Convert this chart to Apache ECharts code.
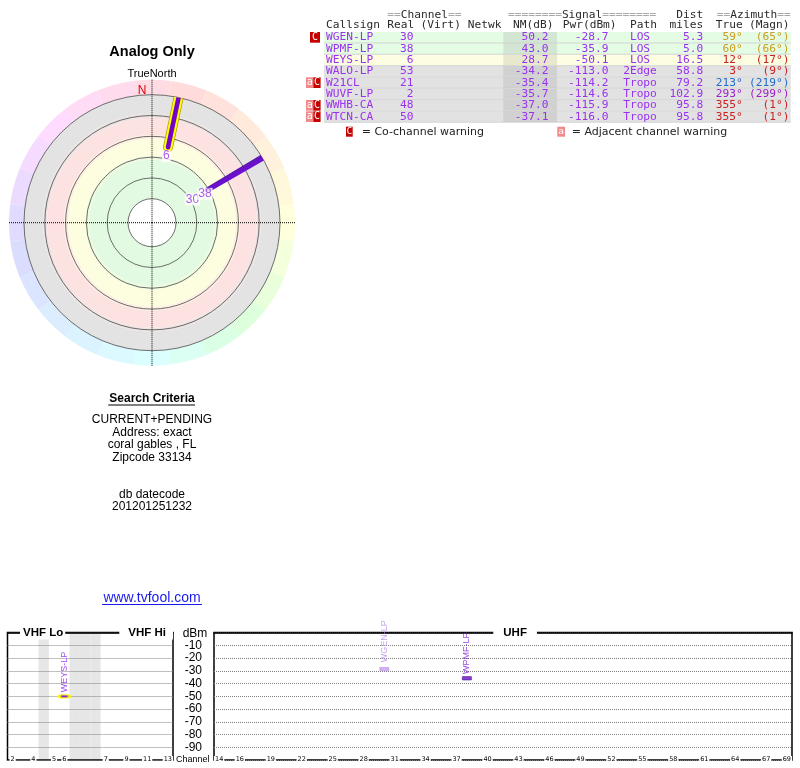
<!DOCTYPE html>
<html><head><meta charset="utf-8">
<script src="https://cdn.jsdelivr.net/npm/echarts@6/dist/echarts.min.js"></script>
<style>html,body{margin:0;padding:0;background:#fff}#c{width:800px;height:768px}</style>
</head><body><div id="c"></div>
<script>
// ================= DATA =================
const callsigns    = ['WGEN-LP','WPMF-LP','WEYS-LP','WALO-LP','W21CL','WUVF-LP','WWHB-CA','WTCN-CA'];
const realChannels = [30, 38, 6, 53, 21, 2, 48, 50];
const nmDb         = [50.2, 43.0, 28.7, -34.2, -35.4, -35.7, -37.0, -37.1];
const pwrDbm       = [-28.7, -35.9, -50.1, -113.0, -114.2, -114.6, -115.9, -116.0];
const paths        = ['LOS','LOS','LOS','2Edge','Tropo','Tropo','Tropo','Tropo'];
const distMiles    = [5.3, 5.0, 16.5, 58.8, 79.2, 102.9, 95.8, 95.8];
const azTrue       = [59, 60, 12, 3, 213, 293, 355, 355];
const azMagn       = [65, 66, 17, 9, 219, 299, 1, 1];
const warnings     = ['C','','','','aC','','aC','aC'];

const vhfSlots = ['2','3','4','g1','5','6','g2','g3','g4','7','8','9','10','11','12','13'];
const vhfTickLabels = ['2','4','5','6','7','9','11','13'];
const uhfSlots = ['14','15','16','17','18','19','20','21','22','23','24','25','26','27','28','29','30','31','32','33',
  '34','35','36','37','38','39','40','41','42','43','44','45','46','47','48','49','50','51','52','53','54','55',
  '56','57','58','59','60','61','62','63','64','65','66','67','68','69'];
const uhfTickLabels = ['14','16','19','22','25','28','31','34','37','40','43','46','49','52','55','58','61','64','67','69'];

const infoLines = ['CURRENT+PENDING','Address: exact','coral gables , FL','Zipcode 33134'];
const dbLines = ['db datecode','201201251232'];

// ================= STYLE =================
const FONT_MONO = "'DejaVu Sans Mono', monospace";
const FONT_SANS = "'Liberation Sans', Arial, sans-serif";
const FONT_DV = "'DejaVu Sans', sans-serif";
const PURPLE = '#9932ee';
const CX = 152, CY = 222.7;
const RADAR_MIN = -54, RADAR_MAX = 115, RADAR_STEP = 33.8;

const stationStyle = {
  'WGEN-LP': {line:'#5c18b0', width:4.4, mark:'#c49cf0', markBorder:'#b58ae8', label:'#b88cec', dist:5, lblOff:[-14.3, 9.7]},
  'WPMF-LP': {line:'#6c10d0', width:4.2, mark:'#6a0cc8', markBorder:'#40008a', label:'#7a1ad8', dist:2.5, lblOff:[-6.2, 5.3]},
  'WEYS-LP': {line:'#7400cc', width:4.6, halo:'#ffff00', haloEdge:'#a89c00', mark:'#7400cc', label:'#8a22e8', dist:2, lblOff:[-1.7, 8.9]}
};
const bandStack = [[24,'#ffffff'],[39,'#e2fae2'],[4,'#eefbde'],[17,'#fdfde0'],[4,'#fdefe2'],[17,'#fde2e2'],[4,'#eee3e3'],[19,'#e3e3e3']];
const hueAnchors = [[0,-15],[45,25],[90,60],[135,115],[180,180],[225,210],[270,250],[315,300],[360,345]];
function ringHue(az){
  for (let i=0;i<hueAnchors.length-1;i++){
    const a0=hueAnchors[i][0],h0=hueAnchors[i][1],a1=hueAnchors[i+1][0],h1=hueAnchors[i+1][1];
    if (az>=a0 && az<=a1) return ((h0+(h1-h0)*(az-a0)/(a1-a0))+360)%360;
  }
  return 0;
}
const ringSegs = ['0','15','30','45','60','75','90','105','120','135','150','165','180','195','210','225','240','255','270','285','300','315','330','345'];
function azColor(az){
  const h = (az<=20||az>=340) ? 0 : (az<=90 ? az*0.75 : (az>270 ? az-10 : az));
  return 'hsl('+h+',72%,46%)';
}
function band(nm){ return nm>=35?'green':(nm>=20?'yellow':(nm>=0?'red':'gray')); }
const BANDC = {green:['#e4fbe4','#d3e6d3'], yellow:['#fdfde2','#e8e8cf'], red:['#fde4e4','#e8d2d2'], gray:['#e2e2e2','#d1d1d1']};

const plotted = [];
nmDb.forEach((v,i)=>{ if (v>0) plotted.push(i); });

// ================= GRAPHIC (text/table) =================
const G = [];
function T(x,y,text,o){
  o=o||{};
  const st={text:String(text), fill:o.fill||'#333', font:o.font||('11.2px '+FONT_MONO),
    align:o.align||'left', verticalAlign:'middle', textAlign:o.align||'left', textVerticalAlign:'middle'};
  if (o.bg){ st.backgroundColor=o.bg; st.padding=o.pad||0; }
  G.push({type:'text', x:x, y:y, z:o.z||20, silent:true, style:st});
}
function R(x,y,w,h,fill,z){ G.push({type:'rect', shape:{x:x,y:y,width:w,height:h}, style:{fill:fill}, z:z||10, silent:true}); }
function L(x1,y1,x2,y2,stroke,w){ G.push({type:'line', shape:{x1:x1,y1:y1,x2:x2,y2:y2}, style:{stroke:stroke,lineWidth:w||1}, z:15, silent:true}); }

// left info
T(CX,51.7,'Analog Only',{font:'bold 14.5px '+FONT_SANS,align:'center',fill:'#000'});
T(CX,74,'TrueNorth',{font:'11px '+FONT_SANS,align:'center',fill:'#000'});
T(142,91,'N',{font:'12px '+FONT_SANS,align:'center',fill:'#dd0000',z:30});
T(CX,398.3,'Search Criteria',{font:'bold 12px '+FONT_SANS,align:'center',fill:'#000'});
L(108.3,405,195,405,'#000',1);
infoLines.forEach((s,k)=>T(CX,420+12.5*k,s,{font:'12px '+FONT_SANS,align:'center',fill:'#000'}));
dbLines.forEach((s,k)=>T(CX,494.3+12*k,s,{font:'12px '+FONT_SANS,align:'center',fill:'#000'}));
T(CX,598.3,'www.tvfool.com',{font:'14px '+FONT_SANS,align:'center',fill:'#1a1aee'});
L(102,604.5,202,604.5,'#1a1aee',1);

// table header
const GRAY='#a8a8a8', DARK='#2a2a2a';
T(387.3,15,'==       ==',{fill:GRAY}); T(387.3,15,'  Channel',{fill:DARK});
T(508,15,'========      ========',{fill:GRAY}); T(508,15,'        Signal',{fill:DARK});
T(703.3,15,'Dist',{fill:DARK,align:'right'});
T(716.7,15,'==       ==',{fill:GRAY}); T(716.7,15,'  Azimuth',{fill:DARK});
T(326,25.3,'Callsign',{fill:DARK}); T(387.3,25.3,'Real',{fill:DARK}); T(420.5,25.3,'(Virt)',{fill:DARK});
T(467.7,25.3,'Netwk',{fill:DARK}); T(513,25.3,'NM(dB)',{fill:DARK}); T(562.7,25.3,'Pwr(dBm)',{fill:DARK});
T(630,25.3,'Path',{fill:DARK}); T(703.3,25.3,'miles',{fill:DARK,align:'right'});
T(742.7,25.3,'True',{fill:DARK,align:'right'}); T(789.5,25.3,'(Magn)',{fill:DARK,align:'right'});

// table rows
const ROW0=32, ROWH=11.33;
callsigns.forEach((cs,i)=>{
  const top=ROW0+ROWH*i, yc=top+5.3, bc=BANDC[band(nmDb[i])];
  R(324,top,466.7,ROWH-0.7,bc[0],8);
  R(503.3,top,53.7,ROWH-0.7,bc[1],9);
  L(324,top+ROWH-0.35,790.7,top+ROWH-0.35,'#c4c4c4',0.7);
  const w=warnings[i];
  if (w==='C'){ R(310,top,10,10.7,'#c40000',12); T(315,yc,'C',{fill:'#fff',align:'center',font:'10px '+FONT_MONO}); }
  else if (w==='aC'){
    R(306,top,7.3,10.7,'#f08a8a',12); T(309.65,yc,'a',{fill:'#fff',align:'center',font:'10px '+FONT_MONO});
    R(313.3,top,7.3,10.7,'#c40000',12); T(316.95,yc,'C',{fill:'#fff',align:'center',font:'10px '+FONT_MONO});
  }
  T(326,yc,cs,{fill:PURPLE});
  T(413.5,yc,realChannels[i],{fill:PURPLE,align:'right'});
  T(548.5,yc,nmDb[i].toFixed(1),{fill:PURPLE,align:'right'});
  T(608.5,yc,pwrDbm[i].toFixed(1),{fill:PURPLE,align:'right'});
  T(640,yc,paths[i],{fill:PURPLE,align:'center'});
  T(703.3,yc,distMiles[i].toFixed(1),{fill:PURPLE,align:'right'});
  T(742.7,yc,azTrue[i]+'°',{fill:azColor(azTrue[i]),align:'right'});
  T(789.5,yc,'('+azMagn[i]+'°)',{fill:azColor(azTrue[i]),align:'right'});
});
// legend
R(346,126.7,6.7,10,'#c40000',12); T(349.35,131.7,'C',{fill:'#fff',align:'center',font:'9.5px '+FONT_MONO});
T(361.7,131.7,'= Co-channel warning',{fill:'#222',font:'11px '+FONT_DV});
R(557.3,126.7,7.7,10,'#f08a8a',12); T(561.15,131.7,'a',{fill:'#fff',align:'center',font:'9.5px '+FONT_MONO});
T(571.7,131.7,'= Adjacent channel warning',{fill:'#222',font:'11px '+FONT_DV});

// bottom panel titles
T(20,632.5,'VHF Lo',{font:'bold 11.5px '+FONT_SANS,fill:'#000',bg:'#fff',pad:[1,2,1,3],z:40});
T(119.3,632.5,'VHF Hi',{font:'bold 11.5px '+FONT_SANS,fill:'#000',bg:'#fff',pad:[1,7,1,9],z:40});
T(493.3,632.5,'UHF',{font:'bold 11.5px '+FONT_SANS,fill:'#000',bg:'#fff',pad:[1,10,1,10],z:40});
T(195,633.3,'dBm',{font:'12px '+FONT_SANS,fill:'#000',align:'center'});
T(209.5,760,'Channel',{font:'9px '+FONT_SANS,fill:'#000',align:'right'});

// ================= SERIES =================
const series = [];
// radar bands
bandStack.forEach(b=>series.push({type:'bar', coordinateSystem:'polar', polarIndex:0, stack:'bands', data:[b[0]],
  barWidth:'100%', barCategoryGap:'0%', itemStyle:{color:b[1]}, z:1, silent:true}));
// hue ring
series.push({type:'bar', coordinateSystem:'polar', polarIndex:1, barWidth:'100%', barCategoryGap:'0%', z:1, silent:true,
  data: ringSegs.map(a=>({value:1, itemStyle:{color:'hsl('+ringHue(+a)+',100%,93%)'}}))});
// radar lines
function lineS(data,color,width){ return {type:'line', coordinateSystem:'polar', polarIndex:3, data:data, symbol:'none',
  clip:false, silent:true, z:6, lineStyle:{color:color, width:width, cap:'round'}}; }
plotted.forEach(i=>{
  const st=stationStyle[callsigns[i]];
  const pts=[[nmDb[i],azTrue[i]],[RADAR_MIN,azTrue[i]]];
  if (st.halo){ series.push(lineS(pts,st.haloEdge,st.width+5.4)); series.push(lineS(pts,st.halo,st.width+4.0)); }
  series.push(lineS(pts,st.line,st.width));
});
// radar labels
series.push({type:'scatter', coordinateSystem:'polar', polarIndex:3, z:7, silent:true, symbolSize:1,
  itemStyle:{color:'rgba(0,0,0,0)'},
  label:{show:true, position:'inside', formatter:'{b}', color:'#9a33f0', fontSize:12, fontFamily:FONT_SANS,
    backgroundColor:'#fff', padding:[0,1]},
  data: plotted.map(i=>({name:String(realChannels[i]), value:[nmDb[i],azTrue[i]], label:{offset:stationStyle[callsigns[i]].lblOff}}))});
// VHF gray gaps
series.push({type:'bar', xAxisIndex:0, yAxisIndex:0, barWidth:'100%', barCategoryGap:'0%', z:1, silent:true,
  itemStyle:{color:'#e6e6e6'}, data: vhfSlots.map(s=>s.charAt(0)==='g'?-100:'-')});
// spectrum marks
plotted.forEach(i=>{
  const ch=realChannels[i], st=stationStyle[callsigns[i]], v=ch<=13?0:1;
  series.push({type:'scatter', xAxisIndex:v, yAxisIndex:v, z:6, silent:true,
    symbol: st.halo?'roundRect':'rect', symbolSize: st.halo?[10,3.2]:[9,3.4],
    itemStyle:{color:st.mark, borderColor: st.halo||st.markBorder, borderWidth: st.halo?2.2:0.6},
    label:{show:true, formatter:callsigns[i], position:'top', distance:st.dist, rotate:90, align:'left',
      verticalAlign:'middle', fontSize:9, fontFamily:FONT_SANS, color:st.label},
    data:[[String(ch), pwrDbm[i]]]});
});

// ================= AXES =================
const hidden = {axisLine:{show:false}, axisTick:{show:false}, axisLabel:{show:false}, splitLine:{show:false}};
function xAx(grid, slots, ticks){
  return {gridIndex:grid, type:'category', data:slots, boundaryGap:true, z:3,
    axisLine:{show:true, lineStyle:{color:'#000', width:1.5}}, axisTick:{show:false}, splitLine:{show:false},
    axisLabel:{show:true, interval:(idx,val)=>ticks.indexOf(val)>=0, margin:-4, fontSize:6.5, fontFamily:FONT_DV,
      color:'#000', backgroundColor:'#fff', padding:[0,1], hideOverlap:false}};
}
function yAx(grid, labels){
  return {gridIndex:grid, type:'value', min:-100, max:0, interval:10, z:3,
    axisLine:{show:false}, axisTick:{show:false},
    splitLine:{show:true, lineStyle:{color:'#808080', type:'dotted', width:1}},
    axisLabel:{show:labels, margin:12, fontSize:12, fontFamily:FONT_SANS, color:'#000',
      formatter:v=>(v>-100&&v<0)?String(v):''}};
}

const option = {
  animation:false,
  backgroundColor:'#fff',
  polar:[
    {center:[CX,CY], radius:[0,128]},
    {center:[CX,CY], radius:[128,143]},
    {center:[CX,CY], radius:[0,143]},
    {center:[CX,CY], radius:[24,128]}
  ],
  angleAxis:[
    Object.assign({polarIndex:0, type:'category', data:['all'], startAngle:90}, hidden),
    Object.assign({polarIndex:1, type:'category', data:ringSegs, startAngle:97.5}, hidden),
    {polarIndex:2, type:'value', min:0, max:360, interval:90, startAngle:90, z:4,
      axisLine:{show:false}, axisTick:{show:false}, axisLabel:{show:false},
      splitLine:{show:true, lineStyle:{color:'#000', type:'dotted', width:1}}},
    Object.assign({polarIndex:3, type:'value', min:0, max:360, startAngle:90}, hidden)
  ],
  radiusAxis:[
    Object.assign({polarIndex:0, type:'value', min:0, max:128}, hidden),
    Object.assign({polarIndex:1, type:'value', min:0, max:1}, hidden),
    Object.assign({polarIndex:2, type:'value', min:0, max:1}, hidden),
    {polarIndex:3, type:'value', inverse:true, min:RADAR_MIN, max:RADAR_MAX, interval:RADAR_STEP, z:3,
      axisLine:{show:false}, axisTick:{show:false}, axisLabel:{show:false},
      splitLine:{show:true, lineStyle:{color:'#4a4a4a', width:0.8}}}
  ],
  grid:[
    {left:7.5, top:632.5, width:165.5, height:127.5, show:true, borderColor:'#000', borderWidth:1.5, backgroundColor:'transparent', z:2, containLabel:false, outerBoundsMode:'none'},
    {left:214, top:632.5, width:578, height:127.5, show:true, borderColor:'#000', borderWidth:1.5, backgroundColor:'transparent', z:2, containLabel:false, outerBoundsMode:'none'}
  ],
  xAxis:[xAx(0,vhfSlots,vhfTickLabels), xAx(1,uhfSlots,uhfTickLabels)],
  yAxis:[yAx(0,false), yAx(1,true)],
  graphic:{elements:G},
  series:series
};
const chart = echarts.init(document.getElementById('c'), null, {width:800, height:768});
chart.setOption(option);
</script></body></html>
